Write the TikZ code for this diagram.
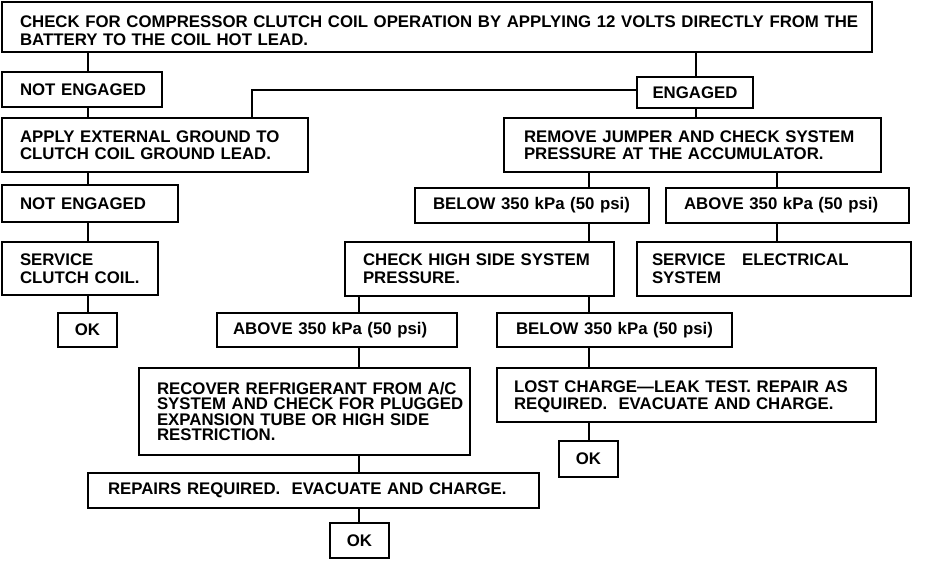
\documentclass[tikz,border=0pt]{standalone}
\usepackage{fontspec}
\setmainfont{Liberation Sans}
\newcommand\mytxt[1]{\mbox{#1}}
\tikzset{
  box/.style={draw, line width=2.8pt, anchor=north west, outer sep=0pt, inner ysep=0pt,
    align=left, font=\fontsize{16.8}{18}\selectfont\bfseries},
  link/.style={line width=2.8pt},
}
\newcommand\bx[8][]{%
  \pgfmathsetmacro\bxw{#5-#3}%
  \pgfmathsetmacro\bxh{#6-#4}%
  \pgfmathsetmacro\bxt{#5-#3-2*#7}%
  \node[box, minimum width=\bxw pt, minimum height=\bxh pt, text width=\bxt pt, inner xsep=#7pt, #1] (#2) at (#3,#4) {#8};}
\begin{document}
\begin{tikzpicture}[x=1pt, y=-1pt]
\useasboundingbox (0,0) rectangle (928,560);
% boxes
\bx{top}{2}{2}{872}{52}{18}{\rule{0pt}{19pt}\mytxt{CHECK FOR COMPRESSOR CLUTCH COIL OPERATION BY APPLYING 12 VOLTS DIRECTLY FROM THE}\\\mytxt{BATTERY TO THE COIL HOT LEAD.}}
\bx{ne1}{2}{72}{162}{107}{18}{\mytxt{NOT ENGAGED}}
\bx[align=center]{eng}{637}{77}{753}{108}{10}{\mytxt{ENGAGED}}
\bx[font=\fontsize{16.8}{17}\selectfont\bfseries]{apply}{2}{118}{308}{172}{18}{\mytxt{APPLY EXTERNAL GROUND TO}\\\mytxt{CLUTCH COIL GROUND LEAD.}}
\bx[font=\fontsize{16.8}{17}\selectfont\bfseries]{remove}{504}{118}{881}{172}{20}{\mytxt{REMOVE JUMPER AND CHECK SYSTEM}\\\mytxt{PRESSURE AT THE ACCUMULATOR.}}
\bx{ne2}{2}{185}{178}{222}{18}{\mytxt{NOT ENGAGED}}
\bx{below1}{415}{188}{649}{223}{18}{\mytxt{BELOW 350 kPa (50 psi)}}
\bx{above1}{666}{188}{909}{223}{18}{\mytxt{ABOVE 350 kPa (50 psi)}}
\bx{svcc}{2}{242}{158}{295}{18}{\mytxt{SERVICE}\\\mytxt{CLUTCH COIL.}}
\bx{check}{345}{242}{614}{296}{18}{\mytxt{CHECK HIGH SIDE SYSTEM}\\\mytxt{PRESSURE.}}
\bx{svce}{637}{242}{911}{296}{15}{\mytxt{SERVICE~~~ELECTRICAL}\\\mytxt{SYSTEM}}
\bx[align=center]{ok1}{58}{313}{117}{347}{5}{\mytxt{OK}}
\bx{above2}{217}{313}{457}{347}{16}{\mytxt{ABOVE 350 kPa (50 psi)}}
\bx{below2}{497}{313}{732}{347}{19}{\mytxt{BELOW 350 kPa (50 psi)}}
\bx[font=\fontsize{16.8}{15.5}\selectfont\bfseries]{recover}{139}{368}{470}{455}{18}{\mytxt{RECOVER REFRIGERANT FROM A/C}\\\mytxt{SYSTEM AND CHECK FOR PLUGGED}\\\mytxt{EXPANSION TUBE OR HIGH SIDE}\\\mytxt{RESTRICTION.}}
\bx[font=\fontsize{16.8}{16.5}\selectfont\bfseries]{lost}{497}{368}{876}{422}{17}{\rule{0pt}{15pt}\mytxt{LOST CHARGE—LEAK TEST. REPAIR AS}\\\mytxt{REQUIRED.~~EVACUATE AND CHARGE.}}
\bx[align=center]{ok2}{559}{441}{618}{477}{5}{\mytxt{OK}}
\bx{repairs}{88}{473}{539}{508}{20}{\mytxt{REPAIRS REQUIRED.~~EVACUATE AND CHARGE.}}
\bx[align=center]{ok3}{330}{523}{389}{558}{5}{\mytxt{OK}}
% connector columns
\coordinate (cA) at (88,0);
\coordinate (cB) at (252,0);
\coordinate (cC) at (359,0);
\coordinate (cD) at (589,0);
\coordinate (cE) at (696,0);
\coordinate (cF) at (777,0);
% connectors
\draw[link] (top.south -| cA) -- (ne1.north -| cA);
\draw[link] (ne1.south -| cA) -- (apply.north -| cA);
\draw[link] (apply.south -| cA) -- (ne2.north -| cA);
\draw[link] (ne2.south -| cA) -- (svcc.north -| cA);
\draw[link] (svcc.south -| cA) -- (ok1.north -| cA);
\draw[link] (top.south -| cE) -- (eng.north -| cE);
\draw[link] (eng.south -| cE) -- (remove.north -| cE);
\draw[link] (eng.west |- 0,90) -| (apply.north -| cB);
\draw[link] (remove.south -| cD) -- (below1.north -| cD);
\draw[link] (remove.south -| cF) -- (above1.north -| cF);
\draw[link] (below1.south -| cD) -- (check.north -| cD);
\draw[link] (above1.south -| cF) -- (svce.north -| cF);
\draw[link] (check.south -| cC) -- (above2.north -| cC);
\draw[link] (check.south -| cD) -- (below2.north -| cD);
\draw[link] (above2.south -| cC) -- (recover.north -| cC);
\draw[link] (recover.south -| cC) -- (repairs.north -| cC);
\draw[link] (repairs.south -| cC) -- (ok3.north -| cC);
\draw[link] (below2.south -| cD) -- (lost.north -| cD);
\draw[link] (lost.south -| cD) -- (ok2.north -| cD);
\end{tikzpicture}
\end{document}
